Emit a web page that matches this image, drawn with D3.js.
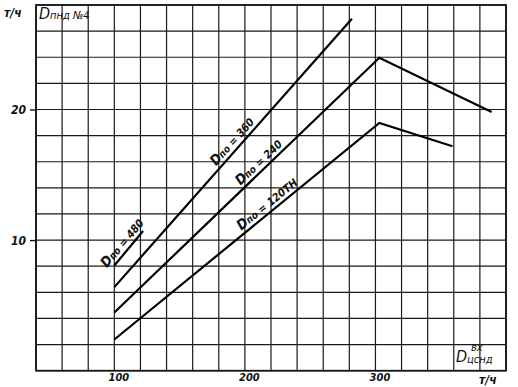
<!DOCTYPE html>
<html>
<head>
<meta charset="utf-8">
<script src="https://cdn.jsdelivr.net/npm/d3@7"></script>
<style>
  body { margin: 0; background: #fff; }
  svg text { font-family: "DejaVu Sans Condensed", "DejaVu Sans", sans-serif; font-style: italic; fill: #111; }
</style>
</head>
<body>
<div id="chart"></div>
<script>
// values
const xTickLabels = [100, 200, 300];
const yTickLabels = [10, 20];

const curve480 = [[100, 8.05], [122, 10.7]];
const curve360 = [[100, 6.4], [282, 26.95]];
const curve240 = [[100, 4.45], [303, 23.96], [389, 19.8]];
const curve120 = [[100, 2.39], [303, 18.97], [359, 17.18]];

const curveNames = ['480', '360', '240', '120ТН'];
const labelAt = [111, 195, 215, 221];   // x (т/ч) where each label sits

let width = 518, height = 387;
let plot = {left: 36, right: 506, top: 5, bottom: 370.7};

let svg = d3.select('#chart').append('svg')
    .attr('width', width)
    .attr('height', height);

let xScale = d3.scaleLinear().domain([40, 400]).range([plot.left, plot.right]);
let yScale = d3.scaleLinear().domain([0, 28]).range([plot.bottom, plot.top]);

// grid, one line per cell (20 т/ч by 2 т/ч)
let gridX = d3.range(40, 401, 20);
let gridY = d3.range(0, 29, 2);

svg.append('g').selectAll('line').data(gridX)
    .enter().append('line')
    .attr('x1', d => xScale(d)).attr('x2', d => xScale(d))
    .attr('y1', plot.top).attr('y2', plot.bottom)
    .attr('stroke', '#1a1a1a').attr('stroke-width', 1.2);

svg.append('g').selectAll('line').data(gridY)
    .enter().append('line')
    .attr('y1', d => yScale(d)).attr('y2', d => yScale(d))
    .attr('x1', plot.left).attr('x2', plot.right)
    .attr('stroke', '#1a1a1a').attr('stroke-width', 1.2);

// frame
svg.append('rect')
    .attr('x', plot.left).attr('y', plot.top)
    .attr('width', plot.right - plot.left).attr('height', plot.bottom - plot.top)
    .attr('fill', 'none').attr('stroke', '#111').attr('stroke-width', 1.7);

// left axis: short ticks + labels
let yAxis = d3.axisLeft(yScale).tickValues(yTickLabels).tickSize(6).tickPadding(4);
let yAxisGroup = svg.append('g')
    .attr('transform', `translate(${plot.left},0)`)
    .call(yAxis);
yAxisGroup.select('.domain').remove();
yAxisGroup.selectAll('line').attr('stroke', '#111').attr('stroke-width', 1.4);
yAxisGroup.selectAll('text')
    .attr('font-size', 12).attr('font-weight', 'bold').attr('dy', '0.35em')
    .style('font-family', '"DejaVu Sans Condensed", sans-serif').style('font-style', 'italic');

// bottom axis labels
let xAxis = d3.axisBottom(xScale).tickValues(xTickLabels).tickSize(0).tickPadding(3);
let xAxisGroup = svg.append('g')
    .attr('transform', `translate(0,${plot.bottom})`)
    .call(xAxis);
xAxisGroup.select('.domain').remove();
xAxisGroup.selectAll('text')
    .attr('font-size', 11).attr('font-weight', 'bold').attr('dx', 4)
    .style('font-family', '"DejaVu Sans Condensed", sans-serif').style('font-style', 'italic');

// curves
let line = d3.line().x(d => xScale(d[0])).y(d => yScale(d[1]));
let curves = [curve480, curve360, curve240, curve120];

svg.append('g').selectAll('path').data(curves)
    .enter().append('path')
    .attr('d', d => line(d))
    .attr('fill', 'none')
    .attr('stroke', '#000')
    .attr('stroke-width', 2.2)
    .attr('stroke-linejoin', 'miter');

// labels written along each curve
curves.forEach((c, i) => {
    let p0 = c[0], p1 = c[1];
    let t = (labelAt[i] - p0[0]) / (p1[0] - p0[0]);
    let yv = p0[1] + t * (p1[1] - p0[1]);
    let px = xScale(labelAt[i]), py = yScale(yv);
    let angle = Math.atan2(yScale(p1[1]) - yScale(p0[1]), xScale(p1[0]) - xScale(p0[0])) * 180 / Math.PI;

    let txt = svg.append('text')
        .attr('transform', `translate(${px},${py}) rotate(${angle})`)
        .attr('text-anchor', 'middle')
        .attr('font-weight', 'bold')
        .attr('dy', -4);
    txt.append('tspan').attr('font-size', 14).text('D');
    txt.append('tspan').attr('font-size', 10).text('по');
    txt.append('tspan').attr('font-size', 11).text(' = ' + curveNames[i]);
});

// axis titles
svg.append('text').attr('x', 4).attr('y', 17).attr('font-size', 12).attr('font-weight', 'bold').text('т/ч');
let yTitle = svg.append('text').attr('x', 39).attr('y', 19);
yTitle.append('tspan').attr('font-size', 16).text('D');
yTitle.append('tspan').attr('font-size', 11).text('пнд №4');

let xTitle = svg.append('text').attr('x', 456).attr('y', 362);
xTitle.append('tspan').attr('font-size', 16).text('D');
xTitle.append('tspan').attr('font-size', 11).attr('dy', 1).text('цснд');
svg.append('text').attr('x', 471).attr('y', 351).attr('font-size', 11).text('вх');
svg.append('text').attr('x', 479).attr('y', 384).attr('font-size', 12).attr('font-weight', 'bold').text('т/ч');
</script>
</body>
</html>
